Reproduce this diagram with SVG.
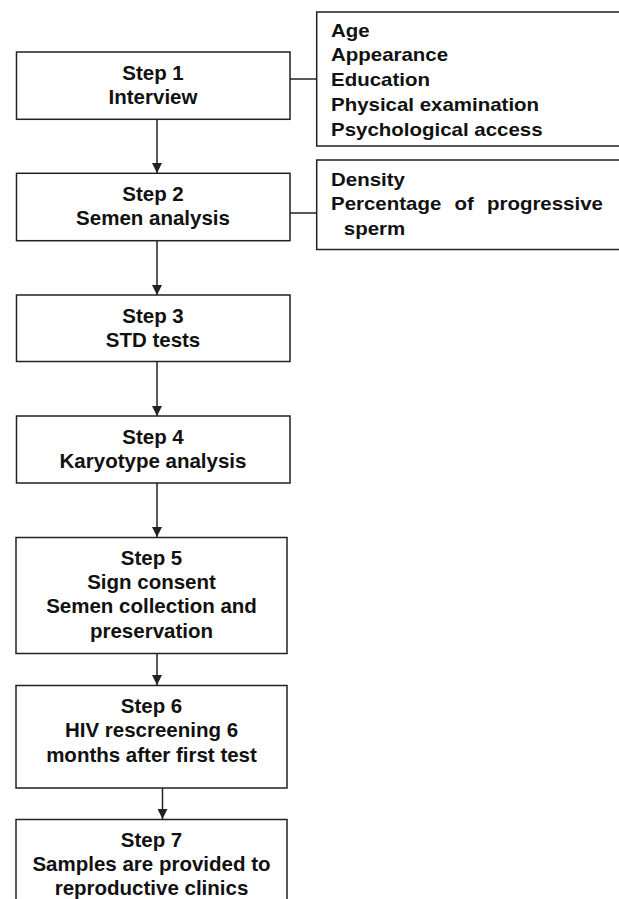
<svg xmlns="http://www.w3.org/2000/svg" width="619" height="899" viewBox="0 0 619 899">
<style>
.box{fill:#fff;stroke:#222;stroke-width:1.5}
.st{font-family:"Liberation Sans",Arial,sans-serif;font-weight:bold;font-size:20.5px;fill:#111;text-anchor:middle}
.sd{font-family:"Liberation Sans",Arial,sans-serif;font-weight:bold;font-size:17.5px;fill:#111}
.ln{stroke:#222;stroke-width:1.5;fill:none}
</style>
<defs>
<marker id="ah" markerUnits="userSpaceOnUse" markerWidth="10" markerHeight="10" refX="10" refY="5" orient="auto">
<path d="M0,0 L10,5 L0,10 z" fill="#222"/>
</marker>
</defs>
<rect width="619" height="899" fill="#fff"/>
<g id="connectors">
<line class="ln" x1="290" y1="79" x2="317" y2="79"/>
<line class="ln" x1="290" y1="213" x2="317" y2="213"/>
<line class="ln" x1="157" y1="119" x2="157" y2="173" marker-end="url(#ah)"/>
<line class="ln" x1="157" y1="241" x2="157" y2="295" marker-end="url(#ah)"/>
<line class="ln" x1="157" y1="362" x2="157" y2="416" marker-end="url(#ah)"/>
<line class="ln" x1="157" y1="483" x2="157" y2="537" marker-end="url(#ah)"/>
<line class="ln" x1="157" y1="654" x2="157" y2="685" marker-end="url(#ah)"/>
<line class="ln" x1="162.5" y1="788" x2="162.5" y2="819" marker-end="url(#ah)"/>
</g>
<g id="step1">
<rect class="box" x="16.5" y="52" width="273.5" height="67.3"/>
<text class="st" x="153" y="80">Step 1</text>
<text class="st" x="153" y="104">Interview</text>
</g>
<g id="step2">
<rect class="box" x="16.5" y="173.3" width="273.5" height="67.4"/>
<text class="st" x="153" y="200.7">Step 2</text>
<text class="st" x="153" y="224.5">Semen analysis</text>
</g>
<g id="step3">
<rect class="box" x="16.5" y="295" width="273.5" height="66.5"/>
<text class="st" x="153" y="322.7">Step 3</text>
<text class="st" x="153" y="346.7">STD tests</text>
</g>
<g id="step4">
<rect class="box" x="16.5" y="416" width="273.5" height="67"/>
<text class="st" x="153" y="444">Step 4</text>
<text class="st" x="153" y="468">Karyotype analysis</text>
</g>
<g id="step5">
<rect class="box" x="16" y="537.5" width="271" height="116"/>
<text class="st" x="151.5" y="565">Step 5</text>
<text class="st" x="151.5" y="589">Sign consent</text>
<text class="st" x="151.5" y="613">Semen collection and</text>
<text class="st" x="151.5" y="637.5">preservation</text>
</g>
<g id="step6">
<rect class="box" x="16" y="685.5" width="271" height="102.5"/>
<text class="st" x="151.5" y="713.3">Step 6</text>
<text class="st" x="151.5" y="737.3">HIV rescreening 6</text>
<text class="st" x="151.5" y="761.5">months after first test</text>
</g>
<g id="step7">
<rect class="box" x="16" y="819.5" width="271" height="100"/>
<text class="st" x="151.5" y="846.7">Step 7</text>
<text class="st" x="151.5" y="870.7">Samples are provided to</text>
<text class="st" x="151.5" y="894.5">reproductive clinics</text>
</g>
<g id="details1">
<rect class="box" x="316.7" y="12" width="320" height="134"/>
<g transform="translate(331 0) scale(1.17 1)">
<text class="sd" x="0" y="37">Age</text>
<text class="sd" x="0" y="61.5">Appearance</text>
<text class="sd" x="0" y="86.5">Education</text>
<text class="sd" x="0" y="111">Physical examination</text>
<text class="sd" x="0" y="136">Psychological access</text>
</g>
</g>
<g id="details2">
<rect class="box" x="316.7" y="160" width="320" height="89.5"/>
<g transform="translate(331 0) scale(1.17 1)">
<text class="sd" x="0" y="186">Density</text>
<text class="sd" x="0" y="210.5">Percentage</text>
<text class="sd" x="105.6" y="210.5">of</text>
<text class="sd" x="133.3" y="210.5">progressive</text>
<text class="sd" x="11" y="235">sperm</text>
</g>
</g>
</svg>
